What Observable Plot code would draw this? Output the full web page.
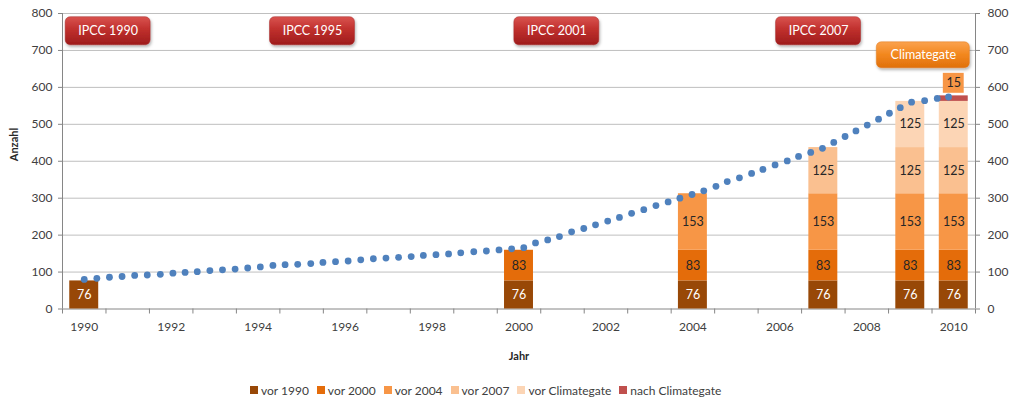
<!DOCTYPE html>
<html>
<head>
<meta charset="utf-8">
<script src="https://cdn.jsdelivr.net/npm/d3@7"></script>
<script src="https://cdn.jsdelivr.net/npm/@observablehq/plot@0.6"></script>
<style>
  body { margin: 0; background: #fff; font-family: Lato, "Open Sans", sans-serif; }
  #chart svg { display: block; }
  #legend { display: flex; align-items: center; height: 36px; padding-left: 250px; font-size: 12px; color: #404040; }
  #legend .item { display: flex; align-items: center; margin-right: 8px; }
  #legend .sw { width: 8px; height: 8px; margin-right: 3px; }
</style>
</head>
<body>
<div id="chart"></div>
<div id="legend"></div>
<script>
// ---- data ----
const barYears = [1990, 2000, 2004, 2007, 2009, 2010];
const seriesNames = ["vor 1990", "vor 2000", "vor 2004", "vor 2007", "vor Climategate", "nach Climategate"];
const vor1990 = [76, 76, 76, 76, 76, 76];
const vor2000 = [0, 83, 83, 83, 83, 83];
const vor2004 = [0, 0, 153, 153, 153, 153];
const vor2007 = [0, 0, 0, 125, 125, 125];
const vorClimategate = [0, 0, 0, 0, 125, 125];
const nachClimategate = [0, 0, 0, 0, 0, 15];
const seriesColors = ["#984807", "#E46C0A", "#F79646", "#FAC090", "#FCD5B5", "#C0504D"];

const dotYears = [
  1990.00, 1990.29, 1990.58, 1990.87, 1991.16, 1991.45, 1991.75, 1992.04, 1992.32, 1992.60,
  1992.89, 1993.18, 1993.47, 1993.76, 1994.05, 1994.34, 1994.62, 1994.91, 1995.21, 1995.49,
  1995.78, 1996.07, 1996.36, 1996.65, 1996.94, 1997.23, 1997.52, 1997.80, 1998.09, 1998.38,
  1998.66, 1998.96, 1999.25, 1999.54, 1999.83, 2000.11, 2000.38, 2000.66, 2000.93, 2001.21,
  2001.49, 2001.76, 2002.04, 2002.31, 2002.59, 2002.87, 2003.15, 2003.43, 2003.70, 2003.98,
  2004.25, 2004.53, 2004.79, 2005.07, 2005.35, 2005.61, 2005.89, 2006.17, 2006.43, 2006.71,
  2006.98, 2007.24, 2007.50, 2007.75, 2008.01, 2008.27, 2008.52, 2008.77, 2009.03, 2009.33,
  2009.62, 2009.88
];
const dotValues = [
  80, 83, 86, 88, 91, 92, 94, 97, 99, 101,
  104, 106, 108, 111, 114, 118, 120, 121, 123, 126,
  128, 130, 133, 136, 138, 140, 142, 145, 147, 149,
  152, 155, 157, 160, 163, 166, 179, 187, 196, 209,
  218, 228, 238, 248, 259, 269, 280, 290, 300, 310,
  320, 332, 345, 355, 367, 378, 390, 401, 413, 424,
  435, 451, 467, 482, 498, 514, 530, 545, 560, 564,
  570, 574
];

const yTicks = [0, 100, 200, 300, 400, 500, 600, 700, 800];
const xTickLabels = [1990, 1992, 1994, 1996, 1998, 2000, 2002, 2004, 2006, 2008, 2010];
const xDomain = [1989.5, 2010.5];

const annotationLabels = ["IPCC 1990", "IPCC 1995", "IPCC 2001", "IPCC 2007", "Climategate"];
const annotationYears = [1990.55, 1995.25, 2000.87, 2006.89, 2009.30];
const annotationLevels = [752, 752, 752, 752, 687];

// ---- build tables ----
const seriesValues = [vor1990, vor2000, vor2004, vor2007, vorClimategate, nachClimategate];
const segments = [];
barYears.forEach((year, i) => {
  let base = 0;
  seriesNames.forEach((name, s) => {
    const v = seriesValues[s][i];
    if (v > 0) segments.push({year, series: name, value: v, y1: base, y2: base + v});
    base += v;
  });
});
const dots = dotYears.map((x, i) => ({x, y: dotValues[i]}));
const annotations = annotationLabels.map((label, i) => ({label, x: annotationYears[i], y: annotationLevels[i]}));
const ipcc = annotations.filter(d => d.label !== "Climategate");
const cg = annotations.filter(d => d.label === "Climategate");
const xTickMarks = d3.range(xDomain[0], xDomain[1] + 0.01, 1);
const bw = 0.333;

const topSeg = segments.filter(d => d.series === "nach Climategate");

const chart = Plot.plot({
  width: 1012,
  height: 372,
  marginLeft: 62,
  marginRight: 37,
  marginTop: 13,
  marginBottom: 63.5,
  x: {type: "linear", domain: xDomain},
  y: {domain: [0, 800]},
  color: {domain: seriesNames, range: seriesColors},
  style: {fontFamily: "Lato, 'Open Sans', sans-serif", fontSize: "12px", color: "#404040", background: "#fff"},
  marks: [
    Plot.ruleY(yTicks.filter(d => d > 0), {stroke: "#bfbfbf", strokeWidth: 1}),
    Plot.ruleX(xDomain, {stroke: "#868686"}),
    Plot.ruleY([0], {stroke: "#868686"}),
    Plot.axisY(yTicks, {anchor: "left", tickSize: 4, tickPadding: 6, label: null, stroke: "#868686", fill: "#404040"}),
    Plot.axisY(yTicks, {anchor: "right", tickSize: 4, tickPadding: 8, label: null, stroke: "#868686", fill: "#404040"}),
    Plot.axisX(xTickMarks, {anchor: "bottom", tickSize: 5, tickFormat: () => "", label: null, stroke: "#868686"}),
    Plot.axisX(xTickLabels, {anchor: "bottom", tickSize: 0, tickPadding: 13, tickFormat: d => String(d), label: null, fill: "#404040"}),
    Plot.text(["Jahr"], {frameAnchor: "bottom", dy: 47, lineAnchor: "middle", fontWeight: "bold", fontSize: 11, fill: "#262626"}),
    Plot.text(["Anzahl"], {frameAnchor: "left", dx: -48, rotate: -90, lineAnchor: "middle", fontWeight: "bold", fontSize: 11, fill: "#262626"}),
    // bars
    Plot.rect(segments, {x1: d => d.year - bw, x2: d => d.year + bw, y1: "y1", y2: "y2", fill: "series"}),
    Plot.text(segments.filter(d => d.series === "vor 1990"), {x: "year", y: d => (d.y1 + d.y2) / 2, text: d => String(d.value), fill: "white", fontSize: 12.5}),
    Plot.text(segments.filter(d => d.series !== "vor 1990" && d.series !== "nach Climategate"), {x: "year", y: d => (d.y1 + d.y2) / 2, text: d => String(d.value), fill: "#262626", fontSize: 12.5}),
    Plot.rect(topSeg, {x1: d => d.year - 0.24, x2: d => d.year + 0.24, y1: d => d.y2 + 7, y2: d => d.y2 + 61, fill: "#F79646"}),
    Plot.text(topSeg, {x: "year", y: d => d.y2 + 34, text: d => String(d.value), fill: "#262626", fontSize: 12.5}),
    // dots
    Plot.dot(dots, {x: "x", y: "y", r: 3.4, fill: "#4F81BD", stroke: "none"}),
    // annotations
    Plot.rect(ipcc, {x1: d => d.x - 0.977, x2: d => d.x + 0.977, y1: d => d.y - 38, y2: d => d.y + 38, rx: 5, fill: "url(#redGrad)", stroke: "#a52a2a", strokeWidth: 0.5, className: "anno"}),
    Plot.rect(cg, {x1: d => d.x - 1.07, x2: d => d.x + 1.07, y1: d => d.y - 35, y2: d => d.y + 35, rx: 5, fill: "url(#orangeGrad)", stroke: "#e07a20", strokeWidth: 0.5, className: "anno"}),
    Plot.text(annotations, {x: "x", y: "y", text: "label", fill: "white", fontSize: 12.5})
  ]
});

const svg = d3.select(chart);
const defs = svg.insert("defs", ":first-child");
const rg = defs.append("linearGradient").attr("id", "redGrad").attr("x1", 0).attr("y1", 0).attr("x2", 0).attr("y2", 1);
rg.append("stop").attr("offset", "0%").attr("stop-color", "#d9534f");
rg.append("stop").attr("offset", "45%").attr("stop-color", "#c0302d");
rg.append("stop").attr("offset", "100%").attr("stop-color", "#9e1c1c");
const og = defs.append("linearGradient").attr("id", "orangeGrad").attr("x1", 0).attr("y1", 0).attr("x2", 0).attr("y2", 1);
og.append("stop").attr("offset", "0%").attr("stop-color", "#fba24e");
og.append("stop").attr("offset", "50%").attr("stop-color", "#f2871e");
og.append("stop").attr("offset", "100%").attr("stop-color", "#e0700c");
const f = defs.append("filter").attr("id", "shadow").attr("x", "-20%").attr("y", "-20%").attr("width", "140%").attr("height", "160%");
f.append("feDropShadow").attr("dx", 1).attr("dy", 2).attr("stdDeviation", 1.5).attr("flood-color", "#000").attr("flood-opacity", 0.3);
svg.selectAll("g.anno rect, .anno rect").attr("filter", "url(#shadow)");

document.getElementById("chart").appendChild(chart);

const legend = d3.select("#legend");
seriesNames.forEach((name, i) => {
  const item = legend.append("div").attr("class", "item");
  item.append("div").attr("class", "sw").style("background", seriesColors[i]);
  item.append("span").text(name);
});
</script>
</body>
</html>
